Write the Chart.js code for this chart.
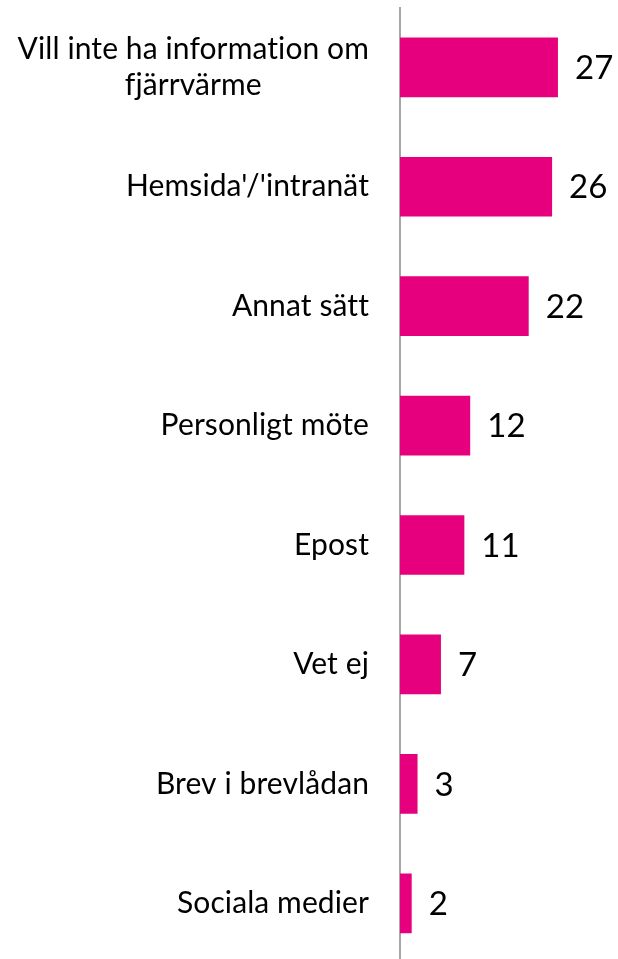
<!DOCTYPE html>
<html>
<head>
<meta charset="utf-8">
<script src="https://cdn.jsdelivr.net/npm/chart.js@4/dist/chart.umd.min.js"></script>
<style>
  html, body { margin: 0; padding: 0; background: #fff; overflow: hidden; }
  #wrap { position: relative; width: 618px; height: 963px; }
</style>
</head>
<body>
<div id="wrap"><canvas id="barChart"></canvas></div>
<script>
// answers, top to bottom
var categories = [
    ['Vill inte ha information om', 'fjärrvärme'],
    "Hemsida'/'intranät",
    'Annat sätt',
    'Personligt möte',
    'Epost',
    'Vet ej',
    'Brev i brevlådan',
    'Sociala medier'
];
var values = [27, 26, 22, 12, 11, 7, 3, 2];

var labelFont = '30px Lato';
var valueFont = '33px Lato';

// draws the category names left of the axis and the numbers after each bar
var textPlugin = {
    id: 'barTexts',
    afterDatasetsDraw: function(chart) {
        var ctx = chart.ctx;
        var meta = chart.getDatasetMeta(0);
        var right = chart.chartArea.left - 31;
        ctx.save();
        ctx.fillStyle = '#000';
        ctx.textBaseline = 'middle';
        ctx.letterSpacing = '0.1px'; // keeps Lato from joining ti / fj
        meta.data.forEach(function(bar, i) {
            var lines = Array.isArray(categories[i]) ? categories[i] : [categories[i]];
            ctx.font = labelFont;
            var w = 0;
            lines.forEach(function(l) { w = Math.max(w, ctx.measureText(l).width); });
            ctx.textAlign = 'center';
            var lineH = 36;
            var y0 = bar.y - (lines.length - 1) * lineH / 2;
            lines.forEach(function(l, k) {
                ctx.fillText(l, right - w / 2, y0 + k * lineH);
            });
            ctx.font = valueFont;
            ctx.textAlign = 'left';
            ctx.fillText(values[i], bar.x + 17, bar.y + 1);
        });
        ctx.restore();
    }
};

var ctx = document.getElementById('barChart');
var chart = new Chart(ctx, {
    type: 'bar',
    data: {
        labels: categories,
        datasets: [{
            data: values,
            backgroundColor: '#E6007E',
            borderWidth: 0,
            barPercentage: 0.5,
            categoryPercentage: 1
        }]
    },
    options: {
        indexAxis: 'y',
        responsive: true,
        maintainAspectRatio: false,
        animation: false,
        layout: { padding: { left: 400, right: 42.5, top: 7.6, bottom: 0 } },
        plugins: { legend: { display: false }, tooltip: { enabled: false } },
        scales: {
            x: { display: false, min: 0, max: 30 },
            y: {
                ticks: { display: false },
                grid: { display: false, drawTicks: false },
                border: { display: true, color: '#A6A6A6', width: 2 }
            }
        }
    },
    plugins: [textPlugin]
});
</script>
</body>
</html>
